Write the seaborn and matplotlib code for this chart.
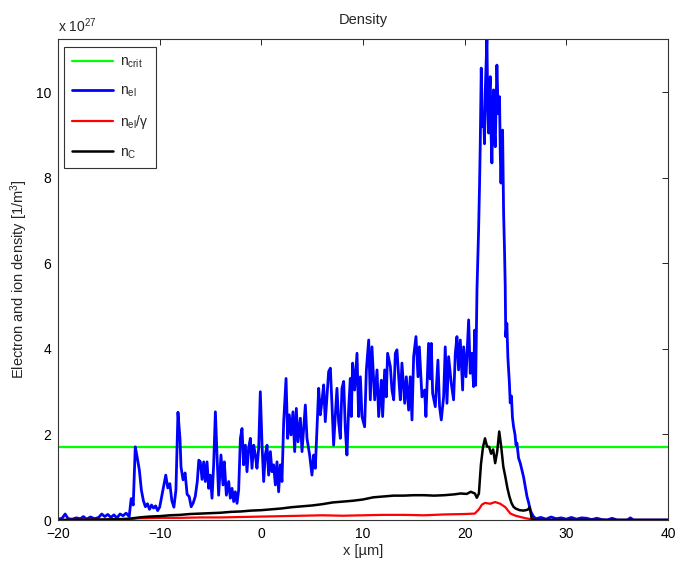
import numpy as np
import pandas as pd
import matplotlib
matplotlib.use("Agg")
import matplotlib.pyplot as plt
import seaborn as sns

# ---- data (densities in units of 1e27 m^-3, positions in micrometres) ----
x_el = [-20.0, -19.6, -19.3, -19.0, -18.6, -18.2, -17.8, -17.5, -17.2, -16.8,
        -16.4, -16.0, -15.7, -15.4, -15.1, -14.8, -14.5, -14.2, -13.9, -13.6,
        -13.3, -13.0, -12.8, -12.6, -12.4, -12.2, -12.0, -11.8, -11.6, -11.4,
        -11.2, -11.0, -10.8, -10.6, -10.4, -10.2, -10.0, -9.8, -9.6, -9.4,
        -9.2, -9.0, -8.8, -8.6, -8.4, -8.2, -8.0, -7.9, -7.7, -7.5,
        -7.3, -7.1, -6.9, -6.7, -6.5, -6.3, -6.15,
        -6.00, -5.83, -5.67, -5.51, -5.34, -5.18, -5.02, -4.85, -4.69, -4.52,
        -4.36, -4.20, -3.97, -3.77, -3.64, -3.44, -3.21, -3.05, -2.88, -2.72,
        -2.56, -2.39, -2.23, -2.06, -1.90, -1.74, -1.57, -1.41, -1.25, -1.08,
        -0.92, -0.75, -0.59, -0.43, -0.26, -0.10, 0.07, 0.23, 0.39, 0.56,
        0.72, 0.89, 1.05, 1.21, 1.38, 1.54, 1.70, 1.87, 2.03, 2.20,
        2.43, 2.59, 2.75, 2.92, 3.11, 3.28, 3.44, 3.61, 3.84, 4.00,
        4.16, 4.33, 4.49, 4.75, 4.98, 5.15, 5.31, 5.47, 5.64, 5.80,
        5.96, 6.13, 6.29, 6.46, 6.62, 6.79, 6.95, 7.11, 7.28, 7.44,
        7.60, 7.77, 7.93, 8.10, 8.26, 8.42, 8.59, 8.75, 8.85, 8.98,
        9.18, 9.41, 9.57, 9.74, 9.90, 10.16, 10.33, 10.56, 10.72, 10.88,
        11.15, 11.38, 11.54, 11.80, 11.93, 12.13, 12.29, 12.42, 12.69, 12.85,
        13.02, 13.18, 13.34, 13.51, 13.67, 13.83, 14.10, 14.26, 14.49, 14.65,
        14.82, 14.98, 15.21, 15.41, 15.54, 15.80, 16.06, 16.19, 16.45, 16.60,
        16.72, 16.85, 17.11, 17.37, 17.53, 17.70, 17.93, 18.09, 18.26, 18.42,
        18.68, 18.91, 19.08, 19.24, 19.40, 19.57, 19.80, 19.90, 20.13, 20.39,
        20.55, 20.70, 20.88, 20.98, 21.08, 21.21, 21.27, 21.37, 21.46, 21.53,
        21.63, 21.75, 21.86, 21.95, 22.03, 22.19, 22.27, 22.35, 22.45, 22.52,
        22.60, 22.68, 22.76, 22.84, 22.92, 23.01, 23.10, 23.17, 23.30, 23.43,
        23.50, 23.57, 23.65, 23.73, 23.83, 23.92, 23.99, 24.04, 24.15, 24.25,
        24.32, 24.40, 24.48, 24.60, 24.70, 24.81, 24.95, 25.05, 25.14, 25.30,
        25.47, 25.60, 25.79, 25.95, 26.13, 26.30, 26.45, 26.60, 26.77, 27.0,
        27.5, 28.0, 28.5, 29.0, 29.5, 30.0, 30.5, 31.0, 31.5, 32.0,
        32.5, 33.0, 33.5, 34.0, 34.5, 35.0, 36.0, 36.3, 36.6, 37.0,
        40.0]
n_el = [0.02, 0.04, 0.14, 0.03, 0.02, 0.05, 0.03, 0.08, 0.02, 0.07,
        0.03, 0.06, 0.14, 0.08, 0.13, 0.06, 0.12, 0.05, 0.14, 0.10,
        0.16, 0.08, 0.50, 0.35, 1.71, 1.45, 1.17, 0.70, 0.45, 0.31,
        0.38, 0.25, 0.35, 0.28, 0.33, 0.22, 0.30, 0.55, 0.80, 1.05,
        0.75, 0.85, 0.45, 0.30, 0.70, 2.52, 1.90, 1.24, 0.94, 1.10,
        0.60, 0.55, 0.31, 0.40, 0.55, 0.90, 1.40,
        1.36, 0.95, 1.36, 0.90, 1.36, 0.74, 1.05, 0.51, 1.29, 2.53,
        1.52, 0.58, 1.52, 0.82, 1.36, 0.58, 0.90, 0.51, 0.74, 0.43,
        0.66, 0.39, 0.70, 1.91, 2.14, 1.29, 1.75, 1.13, 1.68, 1.91,
        1.21, 1.75, 1.52, 1.21, 1.68, 3.00, 1.75, 0.90, 1.52, 1.75,
        1.05, 1.60, 1.13, 1.29, 0.82, 1.36, 0.66, 1.29, 0.90, 2.30,
        3.31, 1.91, 2.46, 1.99, 2.53, 1.60, 2.61, 1.83, 2.38, 1.60,
        2.14, 2.69, 1.91, 1.52, 1.05, 1.52, 1.21, 2.14, 3.08, 2.46,
        2.77, 3.16, 2.30, 2.92, 3.47, 3.55, 2.69, 1.75, 2.46, 3.08,
        2.30, 1.91, 3.08, 3.24, 2.14, 1.52, 2.60, 3.31, 2.42, 3.67,
        3.04, 3.90, 2.42, 3.35, 2.42, 2.18, 3.51, 4.21, 2.81, 4.05,
        2.81, 3.51, 2.42, 3.27, 2.42, 3.51, 2.88, 3.90, 3.59, 3.04,
        2.81, 3.90, 3.98, 3.35, 2.81, 3.67, 2.73, 3.35, 2.57, 3.35,
        2.34, 3.82, 4.29, 3.35, 4.05, 2.88, 3.04, 2.42, 4.13, 3.30,
        4.13, 2.96, 2.65, 3.74, 2.65, 2.34, 2.88, 4.05, 2.73, 3.82,
        3.20, 2.81, 3.90, 4.29, 3.51, 4.21, 3.04, 4.05, 3.35, 4.68,
        3.43, 3.90, 3.12, 4.44, 3.15, 5.38, 5.93, 6.78, 7.80, 8.73,
        10.57, 9.20, 9.52, 8.80, 10.06, 11.30, 9.60, 9.05, 10.10, 10.37,
        9.00, 8.35, 9.40, 10.06, 9.10, 8.73, 9.80, 10.64, 9.50, 9.90,
        8.60, 7.88, 8.60, 9.12, 7.18, 6.30, 5.46, 4.29, 4.60, 3.80,
        3.51, 3.20, 2.74, 2.90, 2.40, 2.18, 2.00, 1.75, 1.80, 1.45,
        1.33, 1.20, 1.01, 0.80, 0.55, 0.40, 0.23, 0.15, 0.08, 0.03,
        0.06, 0.02, 0.07, 0.03, 0.05, 0.02, 0.06, 0.02, 0.05, 0.04,
        0.01, 0.04, 0.01, 0.00, 0.04, 0.00, 0.00, 0.05, 0.00, 0.00,
        0.00]

x_c = [-20.0, -16.0, -14.0, -13.0, -12.0, -11.0, -10.0, -9.0, -8.0, -7.0,
       -6.0, -5.0, -4.0, -3.0, -2.0, -1.0, 0.0, 1.0, 2.0, 3.0,
       4.0, 5.0, 6.0, 7.0, 8.0, 9.0, 10.0, 11.0, 12.0, 13.0,
       14.0, 15.0, 16.0, 17.0, 18.0, 19.0, 19.6, 20.2, 20.6, 21.0,
       21.2, 21.4, 21.6, 21.8, 22.0, 22.2, 22.4, 22.6, 22.8, 23.0,
       23.2, 23.4, 23.6, 23.8, 24.0, 24.2, 24.4, 24.6, 24.8, 25.0,
       25.4, 25.8, 26.2, 26.4, 26.6, 27.0, 40.0]
n_c = [0.00, 0.01, 0.02, 0.03, 0.06, 0.08, 0.09, 0.11, 0.12, 0.14,
       0.15, 0.16, 0.17, 0.19, 0.20, 0.22, 0.23, 0.25, 0.27, 0.30,
       0.32, 0.34, 0.37, 0.41, 0.43, 0.45, 0.48, 0.53, 0.55, 0.57,
       0.57, 0.58, 0.58, 0.57, 0.58, 0.60, 0.62, 0.61, 0.66, 0.62,
       0.52, 0.62, 1.30, 1.70, 1.91, 1.72, 1.71, 1.55, 1.65, 1.33,
       1.60, 2.07, 1.70, 1.25, 1.01, 0.75, 0.55, 0.40, 0.31, 0.27,
       0.23, 0.22, 0.24, 0.30, 0.02, 0.00, 0.00]

x_gam = [-20.0, -15.0, -13.0, -12.0, -10.0, -8.0, -6.0, -4.0, -2.0, 0.0,
         2.0, 4.0, 6.0, 8.0, 10.0, 12.0, 14.0, 16.0, 18.0, 20.0,
         21.0, 21.4, 21.7, 22.0, 22.5, 23.0, 23.5, 24.0, 24.5, 25.0,
         25.5, 26.0, 26.5, 27.0, 40.0]
n_gam = [0.00, 0.01, 0.02, 0.04, 0.05, 0.05, 0.06, 0.06, 0.07, 0.08,
         0.09, 0.10, 0.11, 0.10, 0.11, 0.12, 0.12, 0.11, 0.13, 0.14,
         0.15, 0.25, 0.36, 0.40, 0.38, 0.42, 0.38, 0.30, 0.15, 0.10,
         0.07, 0.04, 0.02, 0.00, 0.00]

n_crit = 1.71
x_range = [-20, 40]
x_ticks = [-20, -10, 0, 10, 20, 30, 40]
y_ticks = [0, 2, 4, 6, 8, 10]

# ---- style ----
sns.set_style("white")
plt.rcParams["font.family"] = ["Liberation Sans", "DejaVu Sans"]
plt.rcParams["mathtext.fontset"] = "custom"
plt.rcParams["mathtext.rm"] = "Liberation Sans"
plt.rcParams["mathtext.it"] = "Liberation Sans:italic"
plt.rcParams["font.size"] = 10

fig = plt.figure(figsize=(6.77, 5.64), dpi=100)
ax = fig.add_axes([58 / 677, 44 / 564, 610 / 677, 481 / 564])

df_el = pd.DataFrame({"x": x_el, "n": n_el})
df_c = pd.DataFrame({"x": x_c, "n": n_c})
df_g = pd.DataFrame({"x": x_gam, "n": n_gam})
df_crit = pd.DataFrame({"x": x_range, "n": [n_crit, n_crit]})

lw = 1.6
sns.lineplot(data=df_crit, x="x", y="n", color="#00ff00", lw=lw, ax=ax,
             estimator=None, label=r"$\mathregular{n_{crit}}$")
sns.lineplot(data=df_el, x="x", y="n", color="#0000ff", lw=2.0, ax=ax,
             estimator=None, sort=False, label=r"$\mathregular{n_{el}}$")
sns.lineplot(data=df_g, x="x", y="n", color="#ff0000", lw=lw, ax=ax,
             estimator=None, sort=False, label=r"$\mathregular{n_{el}}$/γ")
sns.lineplot(data=df_c, x="x", y="n", color="#000000", lw=1.8, ax=ax,
             estimator=None, sort=False, label=r"$\mathregular{n_{C}}$")

ax.set_xlim(*x_range)
ax.set_ylim(0, 11.25)
ax.set_xticks(x_ticks)
ax.set_yticks(y_ticks)
ax.tick_params(direction="in", length=4, width=0.6, top=True, right=True,
               labelsize=10, colors="black", pad=5)
for s in ax.spines.values():
    s.set_visible(True)
    s.set_color("#333333")
    s.set_linewidth(0.8)

ax.set_title("Density", fontsize=10.5, pad=11)
ax.set_xlabel("x [µm]", fontsize=10.5, labelpad=2)
ax.set_ylabel(r"Electron and ion density [1/m$^{\mathregular{3}}$]",
              fontsize=10.5, labelpad=4)
ax.text(0.0, 1.008, r"x 10$^{\mathregular{27}}$", transform=ax.transAxes,
        ha="left", va="bottom", fontsize=10)

leg = ax.legend(loc="upper left", bbox_to_anchor=(6 / 610, 1 - 8 / 481),
                borderaxespad=0, frameon=True, fancybox=False,
                edgecolor="#333333", framealpha=1, fontsize=10,
                handlelength=3.0, handletextpad=0.45, labelspacing=1.0,
                borderpad=0.55)
leg.get_frame().set_linewidth(0.8)

fig.savefig("out.png", dpi=100)
